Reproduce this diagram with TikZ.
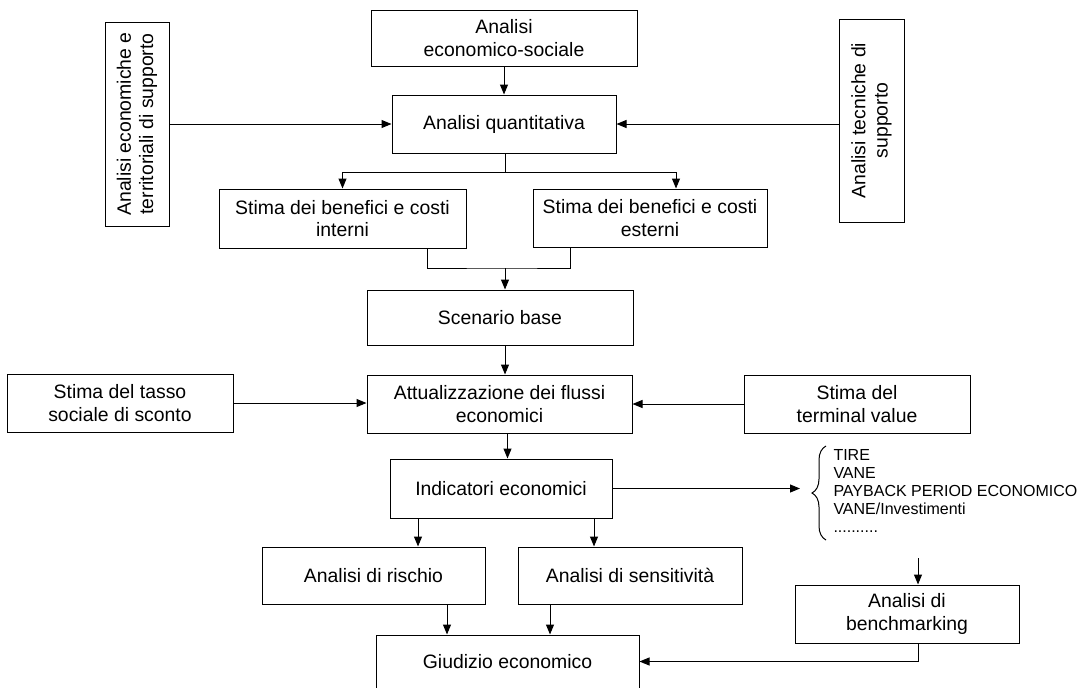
\documentclass[tikz,border=0pt]{standalone}
\usepackage{fontspec}
\setmainfont{Liberation Sans}
\usetikzlibrary{arrows.meta,decorations.pathreplacing}
\begin{document}
\begin{tikzpicture}[x=1pt, y=-1pt, line width=1pt,
	>={Triangle[length=10pt,width=8pt]},
	box/.style={draw, fill=white, align=center, inner sep=2pt, font=\fontsize{19.4}{22.3}\selectfont},
	listtext/.style={align=left, inner sep=0pt, anchor=west, font=\fontsize{16}{18}\selectfont}]
	\useasboundingbox (0,0) rectangle (1082,688);

	\node[box, minimum width=266pt, minimum height=56pt] (ecosoc) at (504,38) {Analisi\\economico-sociale};
	\node[box, minimum width=224pt, minimum height=58pt] (quant) at (504,124) {Analisi quantitativa};
	\node[box, rotate=90, minimum width=204pt, minimum height=64pt] (suppL) at (137,124) {Analisi economiche e\\territoriali di supporto};
	\node[box, rotate=90, minimum width=203pt, minimum height=65pt] (suppR) at (871.5,120.5) {Analisi tecniche di\\supporto};
	\node[box, minimum width=247pt, minimum height=59pt] (interni) at (342.5,218.5) {Stima dei benefici e costi\\interni};
	\node[box, minimum width=234pt, minimum height=58pt] (esterni) at (650,218) {Stima dei benefici e costi\\esterni};
	\node[box, minimum width=266pt, minimum height=55pt] (scenario) at (500,317.5) {Scenario base};
	\node[box, minimum width=226pt, minimum height=58pt] (tasso) at (120,403) {Stima del tasso\\sociale di sconto};
	\node[box, minimum width=265pt, minimum height=58pt] (attual) at (499.5,404) {Attualizzazione dei flussi\\economici};
	\node[box, minimum width=226pt, minimum height=58pt] (terminal) at (857,404) {Stima del\\terminal value};
	\node[box, minimum width=222pt, minimum height=59pt] (indic) at (501,488.5) {Indicatori economici};
	\node[box, minimum width=223pt, minimum height=57pt] (rischio) at (373.5,575.5) {Analisi di rischio};
	\node[box, minimum width=224pt, minimum height=57pt] (sensit) at (630,575.5) {Analisi di sensitivit\`a};
	\node[box, minimum width=263pt, minimum height=53pt] (giudizio) at (507.5,661.5) {Giudizio economico};
	\node[box, minimum width=224pt, minimum height=58pt] (bench) at (907,614) {Analisi di\\benchmarking};
	\node[listtext] (indlist) at (833,491) {TIRE\\VANE\\PAYBACK PERIOD ECONOMICO\\VANE/Investimenti\\..........};

	\coordinate (split1) at (505,172);
	\coordinate (join1) at (505,268);
	\coordinate (bracetip) at (800,488.5);
	\coordinate (listend) at (918,558);

	\draw[->] (ecosoc) -- (quant);
	\draw[->] (suppL) -- (quant);
	\draw[->] (suppR.north |- quant) -- (quant.east);
	\draw (split1 |- quant.south) -- (split1);
	\draw[->] (split1) -| (interni.north);
	\draw[->] (split1) -| ([xshift=26pt]esterni.north);
	\draw ([xshift=84.5pt]interni.south) |- (join1) -| ([xshift=-80pt]esterni.south);
	\draw[->] (join1) -- (join1 |- scenario.north);
	\draw[->] (scenario.south -| join1) -- (join1 |- attual.north);
	\draw[->] (tasso.east) -- (tasso.east -| attual.west);
	\draw[->] (terminal.west) -- (terminal.west -| attual.east);
	\draw[->] ([xshift=8pt]attual.south) -- ([xshift=8pt]attual.south |- indic.north);
	\draw[->] ([xshift=-83pt]indic.south) -- ([xshift=44.5pt]rischio.north);
	\draw[->] ([xshift=93pt]indic.south) -- ([xshift=-36pt]sensit.north);
	\draw[->] ([xshift=73.5pt]rischio.south) -- ([xshift=-60.5pt]giudizio.north);
	\draw[->] ([xshift=-80pt]sensit.south) -- ([xshift=42.5pt]giudizio.north);
	\draw[->] (indic.east) -- (bracetip);
	\draw[decorate, decoration={brace, amplitude=14pt}] (826,540) -- (826,446);
	\draw[->] (listend) -- (listend |- bench.north);
	\draw[->] ([xshift=11pt]bench.south) |- (giudizio.east);
\end{tikzpicture}
\end{document}
